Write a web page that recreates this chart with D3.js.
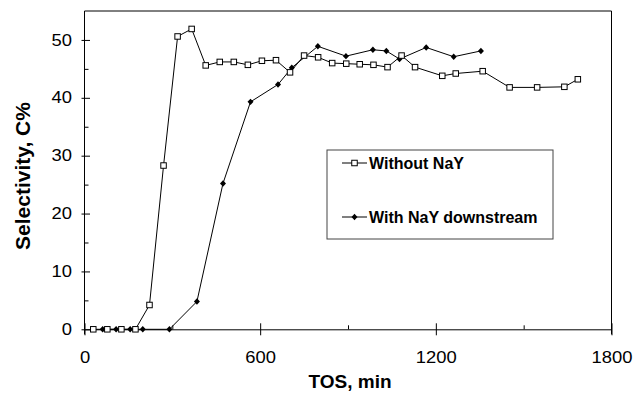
<!DOCTYPE html>
<html>
<head>
<meta charset="utf-8">
<script src="https://cdn.jsdelivr.net/npm/d3@7"></script>
<style>
  body { margin: 0; background: #fff; }
  text { font-family: "Liberation Sans", Arial, sans-serif; fill: #000; }
</style>
</head>
<body>
<script>
// Selectivity vs time on stream
var withoutTos = [30, 78, 126, 174, 222, 270, 318, 366, 414, 462, 510, 558, 606, 654, 702, 750,
                  798, 846, 894, 940, 987, 1035, 1083, 1129, 1222, 1268, 1360, 1452, 1546, 1639, 1685];
var withoutSel = [0, 0, 0, 0, 4.2, 28.3, 50.6, 51.9, 45.6, 46.2, 46.2, 45.7, 46.4, 46.5, 44.4, 47.3,
                  47.0, 46.0, 45.9, 45.8, 45.7, 45.3, 47.3, 45.3, 43.8, 44.2, 44.6, 41.8, 41.8, 41.9, 43.2];
var withTos = [62, 108, 156, 199, 290, 384, 473, 567, 661, 708, 797, 893, 985, 1031, 1076, 1167, 1261, 1354];
var withSel = [0, 0, 0, 0, 0, 4.8, 25.2, 39.3, 42.3, 45.2, 48.9, 47.2, 48.3, 48.1, 46.7, 48.7, 47.1, 48.1];

var seriesNames = ["Without NaY", "With NaY downstream"];
var xMajor = [0, 600, 1200, 1800], xMinor = [300, 900, 1500];
var yMajor = [0, 10, 20, 30, 40, 50], yMinor = [5, 15, 25, 35, 45];

var margin = {top: 11, right: 21.5, bottom: 68.7, left: 84.5},
    width = 633 - margin.left - margin.right,
    height = 398 - margin.top - margin.bottom;

var svg = d3.select("body").append("svg")
    .attr("width", 633)
    .attr("height", 398);

var g = svg.append("g")
    .attr("transform", "translate(" + margin.left + "," + margin.top + ")");

var x = d3.scaleLinear().domain([0, 1800]).range([0, width]);
var y = d3.scaleLinear().domain([0, 55]).range([height, 0]);

// frame (top + right)
g.append("path")
    .attr("d", "M0,0H" + width + "V" + (height + 5))
    .attr("fill", "none")
    .attr("stroke", "#000")
    .attr("stroke-width", 1);

var sx = 1.15; // labels in the picture are a bit wide

var xAxis = g.append("g")
    .attr("transform", "translate(0," + height + ")")
    .call(d3.axisBottom(x).tickValues(xMajor).tickSize(6).tickSizeOuter(0).tickFormat(d3.format("d")));
xAxis.selectAll(".tick line").attr("y1", -6).attr("y2", 6);
xAxis.selectAll(".tick text")
    .attr("y", 34).attr("dy", 0)
    .attr("transform", "scale(" + sx + ",1)")
    .style("font-size", "16px");

g.append("g")
    .attr("transform", "translate(0," + height + ")")
    .call(d3.axisBottom(x).tickValues(xMinor).tickSize(-4).tickSizeOuter(0).tickFormat(""))
    .select(".domain").remove();

var yAxis = g.append("g")
    .call(d3.axisLeft(y).tickValues(yMajor).tickSize(3).tickSizeOuter(0).tickFormat(d3.format("d")));
yAxis.select(".domain").attr("d", "M0," + (height + 5) + "V0");
yAxis.selectAll(".tick line").attr("x1", -3).attr("x2", 5.5);
yAxis.selectAll(".tick text")
    .attr("x", -12.5 / sx)
    .attr("transform", "scale(" + sx + ",1)")
    .style("font-size", "16px");

g.append("g")
    .call(d3.axisLeft(y).tickValues(yMinor).tickSize(-4).tickSizeOuter(0).tickFormat(""))
    .select(".domain").remove();

g.selectAll(".tick line, .domain").attr("stroke", "#000");

// axis titles
svg.append("text")
    .attr("x", 350).attr("y", 388)
    .attr("text-anchor", "middle")
    .style("font-size", "19px").style("font-weight", "bold")
    .text("TOS, min");

svg.append("text")
    .attr("transform", "translate(29.5,176) rotate(-90)")
    .attr("text-anchor", "middle")
    .style("font-size", "21px").style("font-weight", "bold")
    .text("Selectivity, C%");

// series
var line = d3.line().x(function(d) { return x(d[0]); }).y(function(d) { return y(d[1]); });
var without = d3.zip(withoutTos, withoutSel);
var withNay = d3.zip(withTos, withSel);

g.append("path").datum(without)
    .attr("d", line).attr("fill", "none").attr("stroke", "#000").attr("stroke-width", 1);
g.append("path").datum(withNay)
    .attr("d", line).attr("fill", "none").attr("stroke", "#000").attr("stroke-width", 1);

var diamond = "M0,-3.2L3,0L0,3.2L-3,0Z";

g.selectAll(".dia").data(withNay)
  .enter().append("path")
    .attr("class", "dia")
    .attr("transform", function(d) { return "translate(" + x(d[0]) + "," + y(d[1]) + ")"; })
    .attr("d", diamond)
    .attr("fill", "#000");

g.selectAll(".sq").data(without)
  .enter().append("rect")
    .attr("class", "sq")
    .attr("x", function(d) { return x(d[0]) - 2.75; })
    .attr("y", function(d) { return y(d[1]) - 2.75; })
    .attr("width", 5.5).attr("height", 5.5)
    .attr("fill", "#fff").attr("stroke", "#000").attr("stroke-width", 1);

// legend
var legend = svg.append("g").attr("transform", "translate(327,150)");
legend.append("rect")
    .attr("width", 226).attr("height", 89)
    .attr("fill", "#fff").attr("stroke", "#444").attr("stroke-width", 1);

var item = legend.selectAll(".item").data(seriesNames)
  .enter().append("g")
    .attr("class", "item")
    .attr("transform", function(d, i) { return "translate(0," + (13 + i * 54) + ")"; });

item.append("path")
    .attr("d", "M15,0H40")
    .attr("stroke", "#000").attr("stroke-width", 1);
item.filter(function(d, i) { return i === 0; }).append("rect")
    .attr("x", 24.75).attr("y", -2.75).attr("width", 5.5).attr("height", 5.5)
    .attr("fill", "#fff").attr("stroke", "#000");
item.filter(function(d, i) { return i === 1; }).append("path")
    .attr("transform", "translate(27.5,0)")
    .attr("d", diamond).attr("fill", "#000");
item.append("text")
    .attr("x", 42).attr("dy", ".35em")
    .style("font-size", "16px").style("font-weight", "bold")
    .text(function(d) { return d; });
</script>
</body>
</html>
